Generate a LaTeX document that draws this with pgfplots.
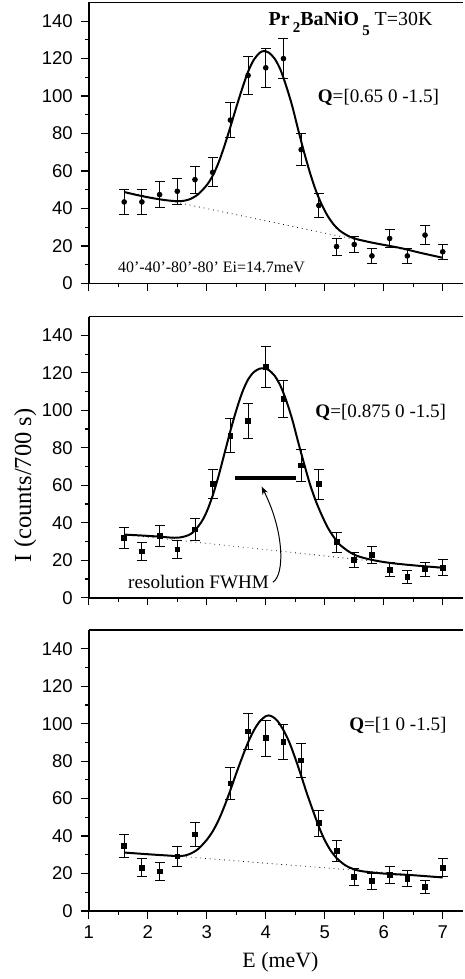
\documentclass[border=0pt]{standalone}
\usepackage{pgfplots}
\usepackage{pgfplotstable}
\pgfplotsset{compat=1.18}
\usepackage{fontspec}
\setmainfont{Liberation Serif}
\newfontfamily\sansf{Liberation Sans}
\usetikzlibrary{arrows.meta}

\pgfplotstableread{
E I err
1.6 43.5 6.5
1.9 43.5 6.5
2.2 47.4 7
2.5 49.2 7
2.8 55.4 7.3
3.1 59.3 7.7
3.4 87.2 9.2
3.7 111 10.3
4.0 115.1 10.5
4.3 120 10.8
4.6 71.4 8.5
4.9 41.6 6.3
5.2 19.7 4.5
5.5 20.8 4.4
5.8 14.7 4
6.1 24 4.7
6.4 14.7 4
6.7 25.8 4.9
7.0 16.9 4
}\dataA

\pgfplotstableread{
E I err
1.6 31.8 5.6
1.9 24.7 4.9
2.2 33.2 5.6
2.5 25.8 4.9
2.8 36.5 6
3.1 60.6 7.8
3.4 86.5 9.2
3.7 94.5 9.4
4.0 123.2 11.1
4.3 106.1 10
4.6 70.6 8.3
4.9 60.6 7.9
5.2 29.7 5.4
5.5 20 4.1
5.8 23 4.6
6.1 15 3.7
6.4 11.1 3.3
6.7 15.2 3.7
7.0 16.1 4.1
}\dataB

\pgfplotstableread{
E I err
1.6 34.7 6
1.9 23.2 4.9
2.2 21.1 4.6
2.5 29.2 5.3
2.8 40.9 6.3
3.4 68.1 8.3
3.7 95.9 9.7
4.0 92.2 9.7
4.3 90.3 9.4
4.6 80.4 9
4.9 46.9 6.9
5.2 32 5.5
5.5 18.1 4.6
5.8 15.9 4.4
6.1 19.1 4.5
6.4 17.2 4.3
6.7 12.9 3.6
7.0 23.2 4.8
}\dataC

\pgfplotsset{
  panel/.style={
    scale only axis, width=188.3pt, height=141.3pt,
    xmin=1, xmax=7.35, ymin=0, ymax=150,
    axis x line*=bottom, axis y line*=left,
    axis line style={line width=0.8pt, black},
    xtick={1,2,...,7}, ytick={0,20,...,140},
    minor x tick num=1, minor y tick num=1,
    tick align=outside,
    major tick length=3.8pt, minor tick length=2pt,
    every tick/.style={line width=0.6pt, black},
    tick label style={font=\sansf\fontsize{9.3}{10}\selectfont},
    yticklabel style={xshift=-0.8pt},
    /pgf/number format/assume math mode=true,
    clip=false,
    extra description/.code={\draw[line width=0.8pt] (rel axis cs:0,1) -- (rel axis cs:1,1);},
    anchor=south west,
  },
  ebar/.style={black, only marks, mark size=1.2pt,
    error bars/y dir=both, error bars/y explicit,
    error bars/error mark=-,
    error bars/error bar style={line width=0.45pt, black},
    error bars/error mark options={rotate=90, mark size=2.5pt, line width=0.45pt, black}},
  fit/.style={black, line width=1pt, smooth, no marks},
  bg/.style={black, line width=0.4pt, dotted, no marks},
}
\tikzset{ann/.style={font=\fontsize{9.6}{11}\selectfont}}

\begin{document}
\begin{tikzpicture}
\path (0,0) rectangle (233pt,489.5pt);

% ---------- panel 1 ----------
\begin{axis}[panel, at={(44.65pt,347pt)}, xticklabels={}]
\addplot[bg] coordinates {(1.6,49.1) (7.0,13.8)};
\addplot[fit] coordinates {
(1.6,48.8)(1.8,47.3)(2.0,46.0)(2.2,44.9)(2.4,44.1)(2.55,43.9)(2.7,44.8)(2.85,47.5)(3.0,52.5)(3.1,57.5)(3.2,64.5)(3.3,73.5)(3.4,83.5)(3.5,94)(3.6,104)(3.7,113)(3.8,119.5)(3.9,123.2)(3.97,124)(4.05,123.2)(4.15,120)(4.25,114)(4.35,105)(4.45,94.5)(4.55,82)(4.65,70)(4.75,59)(4.85,49.5)(4.95,42)(5.05,36)(5.15,31.5)(5.25,28.3)(5.4,25.3)(5.55,23.6)(5.8,21.8)(6.0,20.6)(6.3,18.8)(6.6,16.5)(7.0,13.7)};
\addplot[ebar, mark=*] table[x=E, y=I, y error=err]{\dataA};
\node[anchor=base west, font=\fontsize{10}{12}\selectfont] at (axis cs:3.93,137.4)
  {\textbf{Pr\,\raisebox{-3.5pt}{\fontsize{7.5}{8}\selectfont 2}BaNiO\,\raisebox{-5pt}{\fontsize{7.5}{8}\selectfont 5}} T=30K};
\node[ann] at (axis cs:5.91,99.1) {\textbf{Q}=[0.65 0 -1.5]};
\node[font=\fontsize{8}{10}\selectfont] at (axis cs:3.08,8.8) {40'-40'-80'-80' Ei=14.7meV};
\end{axis}

% ---------- panel 2 ----------
\begin{axis}[panel, at={(44.65pt,189pt)}, xticklabels={}]
\addplot[bg] coordinates {(1.6,33.7) (7.0,15.6)};
\addplot[fit] coordinates {
(1.6,33.7)(1.9,33.2)(2.2,32.6)(2.45,32.0)(2.6,32.5)(2.75,34.5)(2.9,40)(3.0,46)(3.1,54.5)(3.2,65)(3.3,77)(3.4,89)(3.5,100)(3.6,109.5)(3.7,116.5)(3.8,120.5)(3.9,122.3)(3.97,122.5)(4.05,121.5)(4.15,118.5)(4.25,113)(4.35,105)(4.45,95)(4.55,83)(4.65,71.5)(4.75,60.5)(4.85,51.5)(4.95,44)(5.05,37.5)(5.15,32.5)(5.25,28.5)(5.4,24.8)(5.55,22.3)(5.8,20.2)(6.1,18.6)(6.5,17.3)(7.0,16.0)};
\addplot[ebar, mark=square*] table[x=E, y=I, y error=err]{\dataB};
\addplot[black, line width=2pt, no marks] coordinates {(3.47,63.7) (4.51,63.7)};
\draw[-{Stealth[length=4pt,width=3pt]}, line width=0.5pt] (axis cs:4.12,8.3) .. controls (axis cs:4.32,12) and (axis cs:4.32,35) .. (axis cs:3.93,59.3);
\node[ann] at (axis cs:2.86,8.5) {resolution FWHM};
\node[ann] at (axis cs:5.95,98.9) {\textbf{Q}=[0.875 0 -1.5]};
\end{axis}

% ---------- panel 3 ----------
\begin{axis}[panel, at={(44.65pt,31.5pt)}]
\addplot[bg] coordinates {(1.6,31.5) (7.0,18.1)};
\addplot[fit] coordinates {
(1.6,31.2)(2.0,30.3)(2.3,29.7)(2.55,29.3)(2.7,30.3)(2.85,33)(3.0,38)(3.1,42.5)(3.2,48.5)(3.3,56)(3.4,64.5)(3.5,73.5)(3.6,82)(3.7,90)(3.8,96.5)(3.9,101.3)(4.0,104)(4.05,104.4)(4.12,103.6)(4.2,101.4)(4.3,96.5)(4.4,90)(4.5,81.5)(4.6,72.2)(4.7,62.5)(4.8,53.6)(4.9,45)(5.0,37.8)(5.1,32.3)(5.2,28.3)(5.3,25.5)(5.4,23.5)(5.6,21.4)(6.0,20)(6.5,19.1)(7.0,17.9)};
\addplot[ebar, mark=square*] table[x=E, y=I, y error=err]{\dataC};
\node[ann] at (axis cs:6.24,99.1) {\textbf{Q}=[1 0 -1.5]};
\end{axis}

\node[anchor=base, font=\fontsize{11}{13}\selectfont] at (141pt,3pt) {E (meV)};
\node[rotate=90, font=\fontsize{12.3}{14}\selectfont] at (12.75pt,245.5pt) {I (counts/700 s)};
\end{tikzpicture}
\end{document}
